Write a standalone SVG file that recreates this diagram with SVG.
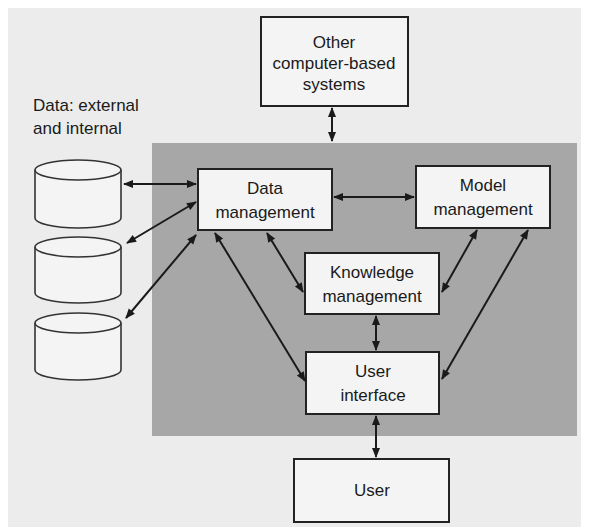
<svg xmlns="http://www.w3.org/2000/svg" width="589" height="529" viewBox="0 0 589 529">
<defs>
<style>
.box{fill:#f4f4f4;stroke:#222;stroke-width:2}
.cyl{fill:#f4f4f4;stroke:#333;stroke-width:1.6}
.t{font-family:"Liberation Sans",Arial,sans-serif;font-size:17px;fill:#1a1a1a;text-anchor:middle}
.lbl{font-family:"Liberation Sans",Arial,sans-serif;font-size:17px;fill:#1a1a1a}
.c{stroke:#1a1a1a;stroke-width:2;fill:none;marker-start:url(#ah);marker-end:url(#ah)}
</style>
<marker id="ah" viewBox="0 0 10 10" refX="9" refY="5" markerWidth="6" markerHeight="5" orient="auto-start-reverse" markerUnits="strokeWidth">
<path d="M0,1 L10,5 L0,9 Z" fill="#1a1a1a"/>
</marker>
</defs>
<rect x="0" y="0" width="589" height="529" fill="#ffffff"/>
<rect x="8" y="8" width="573" height="519" fill="#ececec"/>
<rect id="shade" x="152" y="143" width="425" height="293" fill="#a7a7a7"/>

<g id="label-data">
<text class="lbl" x="33" y="111">Data: external</text>
<text class="lbl" x="33" y="134">and internal</text>
</g>

<g id="cyl1">
<path class="cyl" d="M35,170 L35,218 A43,10 0 0 0 121,218 L121,170"/>
<ellipse class="cyl" cx="78" cy="170" rx="43" ry="10"/>
</g>
<g id="cyl2">
<path class="cyl" d="M35,247 L35,293 A43,10 0 0 0 121,293 L121,247"/>
<ellipse class="cyl" cx="78" cy="247" rx="43" ry="10"/>
</g>
<g id="cyl3">
<path class="cyl" d="M35,323 L35,370 A43,10 0 0 0 121,370 L121,323"/>
<ellipse class="cyl" cx="78" cy="323" rx="43" ry="10"/>
</g>

<g id="other">
<rect class="box" x="261" y="17" width="147" height="89"/>
<text class="t" x="334" y="48">Other</text>
<text class="t" x="334" y="69">computer-based</text>
<text class="t" x="334" y="90">systems</text>
</g>

<g id="datamgmt">
<rect class="box" x="198" y="169" width="134" height="61"/>
<text class="t" x="265" y="194">Data</text>
<text class="t" x="265" y="218">management</text>
</g>

<g id="modelmgmt">
<rect class="box" x="416" y="166" width="134" height="62"/>
<text class="t" x="483" y="191">Model</text>
<text class="t" x="483" y="215">management</text>
</g>

<g id="knowmgmt">
<rect class="box" x="305" y="253" width="134" height="61"/>
<text class="t" x="372" y="278">Knowledge</text>
<text class="t" x="372" y="302">management</text>
</g>

<g id="ui">
<rect class="box" x="306" y="352" width="133" height="62"/>
<text class="t" x="373" y="377">User</text>
<text class="t" x="373" y="401">interface</text>
</g>

<g id="user">
<rect class="box" x="294" y="459" width="155" height="63"/>
<text class="t" x="372" y="496">User</text>
</g>

<g id="connectors">
<line class="c" x1="332" y1="108" x2="332" y2="141"/>
<line class="c" x1="124" y1="184" x2="196" y2="184"/>
<line class="c" x1="127" y1="243" x2="196" y2="202"/>
<line class="c" x1="126" y1="318" x2="196" y2="235"/>
<line class="c" x1="334" y1="197" x2="414" y2="197"/>
<line class="c" x1="267" y1="233" x2="303" y2="292"/>
<line class="c" x1="215" y1="233" x2="305" y2="381"/>
<line class="c" x1="477" y1="230" x2="442" y2="292"/>
<line class="c" x1="528" y1="230" x2="442" y2="379"/>
<line class="c" x1="376" y1="316" x2="376" y2="350"/>
<line class="c" x1="376" y1="416" x2="376" y2="457"/>
</g>
</svg>
